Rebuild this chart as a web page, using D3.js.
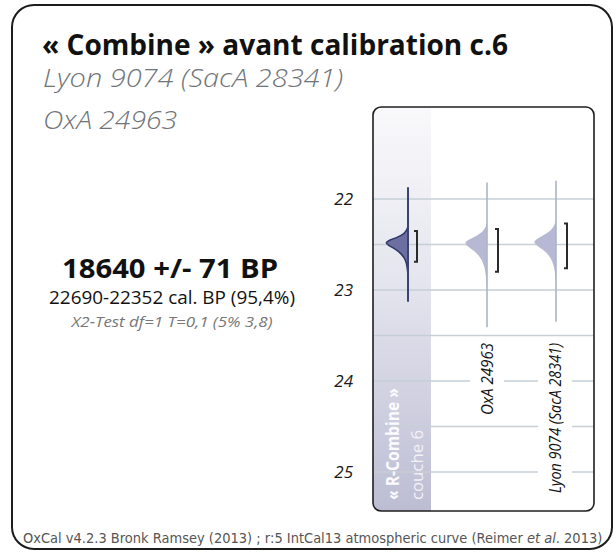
<!DOCTYPE html>
<html><head><meta charset="utf-8">
<script src="https://cdn.jsdelivr.net/npm/d3@7"></script>
<style>html,body{margin:0;padding:0;background:#fff;}svg{display:block;}</style>
</head><body>
<svg id="c" width="616" height="554"></svg>
<script>
// ---------- DATA ----------
const title = "« Combine » avant calibration c.6";
const subtitleLines = ["Lyon 9074 (SacA 28341)", "OxA 24963"];
const resultMain = "18640 +/- 71 BP";
const resultRange = "22690-22352 cal. BP (95,4%)";
const resultTest = "X2-Test df=1 T=0,1 (5% 3,8)";
const yTickLabels = [22, 23, 24, 25];          // cal BP, thousands
const gridValues = [22, 22.5, 23, 23.5, 24, 24.5, 25];
const seriesNames = ["R-Combine", "OxA 24963", "Lyon 9074 (SacA 28341)"];
// probability densities (age in kyr cal BP, relative density)
const rcombineAge     = [22.30, 22.34, 22.38, 22.42, 22.45, 22.48, 22.51, 22.55, 22.60, 22.65, 22.70, 22.78, 22.85];
const rcombineDensity = [0.00, 0.05, 0.15, 0.45, 0.80, 1.00, 0.85, 0.55, 0.30, 0.15, 0.07, 0.02, 0.00];
const oxaAge     = [22.25, 22.30, 22.35, 22.40, 22.44, 22.48, 22.52, 22.57, 22.63, 22.70, 22.78, 22.88, 22.98];
const oxaDensity = [0.00, 0.04, 0.15, 0.40, 0.75, 1.00, 0.85, 0.55, 0.32, 0.17, 0.08, 0.03, 0.00];
const lyonAge     = [22.22, 22.28, 22.33, 22.38, 22.43, 22.47, 22.51, 22.56, 22.62, 22.69, 22.77, 22.87, 22.95];
const lyonDensity = [0.00, 0.05, 0.16, 0.40, 0.78, 1.00, 0.85, 0.55, 0.30, 0.15, 0.06, 0.02, 0.00];
// 95.4% ranges
const rangeFrom = [22.352, 22.33, 22.27];
const rangeTo   = [22.690, 22.80, 22.76];
// extent of each line
const lineFrom = [21.87, 21.82, 21.80];
const lineTo   = [23.13, 23.41, 23.35];
const footer = ["OxCal v4.2.3 Bronk Ramsey (2013) ; r:5 IntCal13 atmospheric curve (Reimer ", "et al", ". 2013)"];

// ---------- DRAW ----------
const svg = d3.select("#c");
const defs = svg.append("defs");
const grad = defs.append("linearGradient").attr("id","band").attr("x1",0).attr("y1",0).attr("x2",0).attr("y2",1);
grad.append("stop").attr("offset","0").attr("stop-color","#f9f9fb");
grad.append("stop").attr("offset","0.45").attr("stop-color","#e4e4ee");
grad.append("stop").attr("offset","1").attr("stop-color","#bcbdd3");

// outer frame
svg.append("rect").attr("x",12).attr("y",5).attr("width",600).attr("height",544)
  .attr("rx",22).attr("fill","#fff").attr("stroke","#1c1c1c").attr("stroke-width",2);

// title block
svg.append("text").attr("x",42).attr("y",55).text(title)
  .attr("font-family","Open Sans").attr("font-weight",700).attr("font-size",29)
  .attr("fill","#111").attr("textLength",466).attr("lengthAdjust","spacingAndGlyphs");
const subW = [300, 134];
subtitleLines.forEach((s,i)=>{
  svg.append("text").attr("x",43).attr("y",87+i*42).text(s)
    .attr("font-family","Open Sans").attr("font-style","italic").attr("font-weight",300).attr("font-size",25)
    .attr("fill","#6f747a").attr("textLength",subW[i]).attr("lengthAdjust","spacingAndGlyphs");
});

// result block
svg.append("text").attr("x",170).attr("y",278).attr("text-anchor","middle").text(resultMain)
  .attr("font-family","Open Sans").attr("font-weight",700).attr("font-size",27).attr("fill","#111")
  .attr("textLength",216).attr("lengthAdjust","spacingAndGlyphs");
svg.append("text").attr("x",172).attr("y",304).attr("text-anchor","middle").text(resultRange)
  .attr("font-family","Open Sans").attr("font-size",19).attr("fill","#111")
  .attr("textLength",246).attr("lengthAdjust","spacingAndGlyphs");
svg.append("text").attr("x",172).attr("y",327).attr("text-anchor","middle").text(resultTest)
  .attr("font-family","Open Sans").attr("font-style","italic").attr("font-size",15).attr("fill","#777")
  .attr("textLength",201).attr("lengthAdjust","spacingAndGlyphs");

// panel
const panel = {x0:373, x1:594, y0:107, y1:511};
const y = d3.scaleLinear().domain([22,25]).range([199,472]);
const xCol = d3.scaleOrdinal().domain(seriesNames).range([408,487,556]);
const w = d3.scaleLinear().domain([0,1]).range([0,23]);

svg.append("rect").attr("x",panel.x0).attr("y",panel.y0).attr("width",panel.x1-panel.x0).attr("height",panel.y1-panel.y0)
  .attr("rx",8).attr("fill","#fff");
svg.append("path").attr("fill","url(#band)")
  .attr("d",`M${panel.x0+8},${panel.y0} H431 V${panel.y1} H${panel.x0+8} Q${panel.x0},${panel.y1} ${panel.x0},${panel.y1-8} V${panel.y0+8} Q${panel.x0},${panel.y0} ${panel.x0+8},${panel.y0} Z`);

// gridlines
svg.append("g").selectAll("line").data(gridValues).join("line")
  .attr("x1",panel.x0).attr("x2",panel.x1).attr("y1",d=>y(d)).attr("y2",d=>y(d))
  .attr("stroke","#c6cfd6").attr("stroke-width",1.3);

// y axis labels
const yAxis = d3.axisLeft(y).tickValues(yTickLabels).tickSize(0).tickPadding(0).tickFormat(d3.format("d"));
const ga = svg.append("g").attr("transform","translate(353,0)").call(yAxis);
ga.select(".domain").remove();
ga.selectAll("text").attr("font-family","Open Sans").attr("font-style","italic").attr("font-size",17)
  .attr("fill","#1a1a1a").attr("dy","0.35em");

// column labels (rotated) with white backing
const labCfg = [
  {name:"OxA 24963", x:493, len:72},
  {name:"Lyon 9074 (SacA 28341)", x:561, len:150}
];
labCfg.forEach(c=>{
  const g = svg.append("g").attr("transform",`translate(${c.x},343) rotate(-90)`);
  const t = g.append("text").attr("text-anchor","end").text(c.name)
    .attr("font-family","Open Sans").attr("font-style","italic").attr("font-size",16).attr("fill","#111")
    .attr("textLength",c.len).attr("lengthAdjust","spacingAndGlyphs");
  const bb = t.node().getBBox();
  g.insert("rect","text").attr("x",bb.x-4).attr("y",bb.y-6).attr("width",bb.width+8).attr("height",bb.height+12).attr("fill","#fff");
});

// band labels
const bl = svg.append("g").attr("transform","translate(399,500) rotate(-90)");
bl.append("text").text("« R-Combine »").attr("font-family","Open Sans").attr("font-weight",700)
  .attr("font-size",17).attr("fill","#fbfbfd").attr("textLength",112).attr("lengthAdjust","spacingAndGlyphs");
const bl2 = svg.append("g").attr("transform","translate(423,500) rotate(-90)");
bl2.append("text").text("couche 6").attr("font-family","Open Sans").attr("font-weight",400)
  .attr("font-size",17).attr("fill","#f2f2f7").attr("textLength",70).attr("lengthAdjust","spacingAndGlyphs");

// distributions
const seriesData = [
  {name:seriesNames[0], age:rcombineAge, dens:rcombineDensity, fill:"#6c6f9f", stroke:"#2d3769", line:"#3a4472", lw:2},
  {name:seriesNames[1], age:oxaAge, dens:oxaDensity, fill:"#b7b9d4", stroke:"none", line:"#a9b4c9", lw:1.6},
  {name:seriesNames[2], age:lyonAge, dens:lyonDensity, fill:"#b7b9d4", stroke:"none", line:"#a9b4c9", lw:1.6}
];
seriesData.forEach((s,i)=>{
  const cx = xCol(s.name);
  const pts = s.age.map((a,j)=>({a, d:s.dens[j]}));
  const area = d3.area().curve(d3.curveBasis).y(p=>y(p.a)).x0(cx).x1(p=>cx - w(p.d));
  svg.append("path").attr("d",area(pts)).attr("fill",s.fill)
    .attr("stroke",s.stroke).attr("stroke-width",1.5);
  svg.append("line").attr("x1",cx).attr("x2",cx).attr("y1",y(lineFrom[i])).attr("y2",y(lineTo[i]))
    .attr("stroke",s.line).attr("stroke-width",s.lw);
  const bx = cx + (i===0?9:11);
  svg.append("path").attr("fill","none").attr("stroke","#2b2b2b").attr("stroke-width",2)
    .attr("d",`M${bx-3},${y(rangeFrom[i])} H${bx} V${y(rangeTo[i])} H${bx-3}`);
});

// panel border
svg.append("rect").attr("x",panel.x0).attr("y",panel.y0).attr("width",panel.x1-panel.x0).attr("height",panel.y1-panel.y0)
  .attr("rx",8).attr("fill","none").attr("stroke","#1f1f1f").attr("stroke-width",1.6);

// footer (scaled horizontally as a group to fit)
const fg = svg.append("g");
const ft = fg.append("text").attr("x",0).attr("y",0).attr("font-family","DejaVu Sans").attr("font-size",14)
  .attr("fill","#555");
ft.append("tspan").text(footer[0]);
ft.append("tspan").attr("font-style","italic").text(footer[1]);
ft.append("tspan").text(footer[2]);
const natural = ft.node().getComputedTextLength();
fg.attr("transform",`translate(23,543) scale(${580/natural},1)`);
</script>
</body></html>
